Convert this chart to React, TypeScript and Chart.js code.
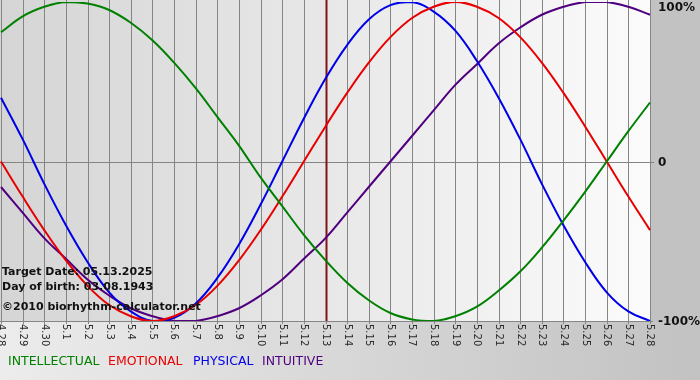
import React, { useEffect, useRef } from "react";
import { Chart, registerables } from "chart.js";

Chart.register(...registerables);

const dayLabels = [
  "4.28", "4.29", "4.30", "5.1", "5.2", "5.3", "5.4", "5.5", "5.6", "5.7", "5.8",
  "5.9", "5.10", "5.11", "5.12", "5.13", "5.14", "5.15", "5.16", "5.17", "5.18",
  "5.19", "5.20", "5.21", "5.22", "5.23", "5.24", "5.25", "5.26", "5.27", "5.28",
];

const physical = [0.40, 0.14, -0.14, -0.40, -0.63, -0.82, -0.94, -1.00, -0.98, -0.89, -0.73, -0.52, -0.27, 0, 0.27, 0.52, 0.73, 0.89, 0.98, 1.00, 0.94, 0.82, 0.63, 0.40, 0.14, -0.14, -0.40, -0.63, -0.82, -0.94, -1.00];
const emotional = [0, -0.22, -0.43, -0.62, -0.78, -0.90, -0.97, -1.00, -0.97, -0.90, -0.78, -0.62, -0.43, -0.22, 0, 0.22, 0.43, 0.62, 0.78, 0.90, 0.97, 1.00, 0.97, 0.90, 0.78, 0.62, 0.43, 0.22, 0, -0.22, -0.43];
const intellectual = [0.81, 0.91, 0.97, 1.00, 0.99, 0.95, 0.87, 0.76, 0.62, 0.46, 0.28, 0.10, -0.10, -0.28, -0.46, -0.62, -0.76, -0.87, -0.95, -0.99, -1.00, -0.97, -0.91, -0.81, -0.69, -0.54, -0.37, -0.19, 0, 0.19, 0.37];
const intuitive = [-0.16, -0.32, -0.48, -0.61, -0.74, -0.84, -0.92, -0.97, -1.00, -1.00, -0.97, -0.92, -0.84, -0.74, -0.61, -0.48, -0.32, -0.16, 0, 0.16, 0.32, 0.48, 0.61, 0.74, 0.84, 0.92, 0.97, 1.00, 1.00, 0.97, 0.92];

const yTickValues = [1, 0, -1];
const yTickLabels = ["100%", "0", "-100%"];
const targetIndex = 15;
const infoLines = ["Target Date: 05.13.2025", "Day of birth: 03.08.1943", "©2010 biorhythm-calculator.net"];

const legendItems = [
  { text: "INTELLECTUAL", color: "#008000", x: 8 },
  { text: "EMOTIONAL", color: "#e80000", x: 108 },
  { text: "PHYSICAL", color: "#0000e8", x: 193 },
  { text: "INTUITIVE", color: "#50007f", x: 262 },
];

const decorPlugin = {
  id: "decor",
  beforeDraw(chart: any) {
    const { ctx, chartArea, width, height } = chart;
    const { left, right, bottom } = chartArea;
    ctx.save();
    ctx.fillStyle = "#c2c2c2";
    ctx.fillRect(0, 0, width, height);
    const gb = ctx.createLinearGradient(0, 0, width, 0);
    gb.addColorStop(0, "#ececec");
    gb.addColorStop(1, "#c2c2c2");
    ctx.fillStyle = gb;
    ctx.fillRect(0, bottom, width, height - bottom);
    const gp = ctx.createLinearGradient(left, 0, right, 0);
    gp.addColorStop(0, "#d5d5d5");
    gp.addColorStop(1, "#fbfbfb");
    ctx.fillStyle = gp;
    ctx.fillRect(0, 0, right, bottom);
    ctx.restore();
  },
  beforeDatasetsDraw(chart: any) {
    const { ctx, chartArea, scales } = chart;
    const { right, bottom } = chartArea;
    const xs = scales.x;
    const ys = scales.y;
    ctx.save();
    ctx.strokeStyle = "#858585";
    ctx.lineWidth = 1;
    for (let i = 0; i < dayLabels.length; i++) {
      const x = Math.round(xs.getPixelForValue(i)) + 0.5;
      ctx.beginPath();
      ctx.moveTo(x, 0);
      ctx.lineTo(x, bottom + 3);
      ctx.stroke();
    }
    const y0 = Math.round(ys.getPixelForValue(0)) + 0.5;
    ctx.beginPath();
    ctx.moveTo(0, y0);
    ctx.lineTo(right + 4, y0);
    ctx.stroke();
    const yb = Math.round(ys.getPixelForValue(-1)) + 0.5;
    ctx.beginPath();
    ctx.moveTo(0, yb);
    ctx.lineTo(right + 3, yb);
    ctx.stroke();
    const xt = Math.round(xs.getPixelForValue(targetIndex)) + 0.5;
    ctx.strokeStyle = "#801515";
    ctx.lineWidth = 2;
    ctx.beginPath();
    ctx.moveTo(xt, 0);
    ctx.lineTo(xt, bottom);
    ctx.stroke();
    ctx.restore();
  },
  afterDatasetsDraw(chart: any) {
    const { ctx, chartArea, scales } = chart;
    const { right, bottom } = chartArea;
    const xs = scales.x;
    const ys = scales.y;
    ctx.save();
    ctx.fillStyle = "#2a2a2a";
    ctx.font = "10px 'DejaVu Sans'";
    ctx.textAlign = "left";
    ctx.textBaseline = "middle";
    for (let i = 0; i < dayLabels.length; i++) {
      const x = xs.getPixelForValue(i);
      ctx.save();
      ctx.translate(x, bottom + 3);
      ctx.rotate(Math.PI / 2);
      ctx.fillText(dayLabels[i], 0, 0);
      ctx.restore();
    }
    ctx.fillStyle = "#111";
    ctx.font = "bold 12px 'DejaVu Sans'";
    for (let k = 0; k < yTickValues.length; k++) {
      const y = Math.max(ys.getPixelForValue(yTickValues[k]) + 1, 8);
      ctx.fillText(yTickLabels[k], right + 8, y);
    }
    ctx.font = "bold 11px 'DejaVu Sans'";
    ctx.fillStyle = "#111";
    const infoY = [272, 287, 307];
    for (let k = 0; k < infoLines.length; k++) {
      ctx.fillText(infoLines[k], 2, infoY[k]);
    }
    ctx.font = "12.5px 'DejaVu Sans'";
    for (const item of legendItems) {
      ctx.fillStyle = item.color;
      ctx.fillText(item.text, item.x, 362);
    }
    ctx.restore();
  },
};

export default function App() {
  const canvasRef = useRef<HTMLCanvasElement | null>(null);

  useEffect(() => {
    const canvas = canvasRef.current;
    if (!canvas) return;
    const mk = (label: string, data: number[], color: string) => ({
      label,
      data,
      borderColor: color,
      backgroundColor: color,
      borderWidth: 2,
      pointRadius: 0,
      tension: 0.4,
      fill: false,
    });
    const chart = new Chart(canvas, {
      type: "line",
      data: {
        labels: dayLabels,
        datasets: [
          mk("INTELLECTUAL", intellectual, "#008000"),
          mk("EMOTIONAL", emotional, "#e80000"),
          mk("PHYSICAL", physical, "#0000e8"),
          mk("INTUITIVE", intuitive, "#50007f"),
        ],
      },
      options: {
        responsive: false,
        animation: false,
        layout: { padding: { left: 1, right: 50, top: 2, bottom: 59 } },
        plugins: { legend: { display: false }, tooltip: { enabled: false } },
        scales: {
          x: { display: false, offset: false },
          y: { display: false, min: -1, max: 1 },
        },
      },
      plugins: [decorPlugin],
    });
    return () => chart.destroy();
  }, []);

  return (
    <div style={{ position: "fixed", left: 0, top: 0, width: 700, height: 380 }}>
      <canvas ref={canvasRef} width={700} height={380} />
    </div>
  );
}
